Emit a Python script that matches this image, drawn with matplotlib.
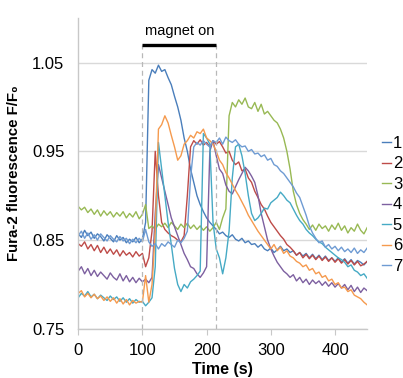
import numpy as np
import matplotlib
matplotlib.use('Agg')
import matplotlib.pyplot as plt

plt.rcParams['font.family'] = ['Liberation Sans', 'DejaVu Sans']

# time axis, one reading every 5 s
time_s = np.arange(0, 451, 5)

s1 = [0.857, 0.853, 0.861, 0.855, 0.859, 0.852, 0.857, 0.854, 0.849, 0.856,
      0.852, 0.848, 0.855, 0.850, 0.853, 0.847, 0.851, 0.848, 0.853, 0.847,
      0.851, 0.870, 1.030, 1.042, 1.038, 1.047, 1.040, 1.042, 1.033, 1.025,
      1.012, 1.000, 0.985, 0.965, 0.950, 0.930, 0.915, 0.900, 0.890, 0.882,
      0.875, 0.870, 0.866, 0.862, 0.857, 0.859, 0.855, 0.853, 0.856, 0.851,
      0.849, 0.852, 0.847, 0.849, 0.845, 0.846, 0.842, 0.845, 0.840, 0.838,
      0.841, 0.836, 0.839, 0.843, 0.838, 0.840, 0.836, 0.838, 0.833, 0.836,
      0.832, 0.835, 0.830, 0.834, 0.829, 0.833, 0.828, 0.832, 0.827, 0.830,
      0.826, 0.830, 0.825, 0.829, 0.824, 0.828, 0.823, 0.827, 0.825, 0.822,
      0.826]
s2 = [0.846, 0.843, 0.848, 0.840, 0.845, 0.838, 0.844, 0.836, 0.842, 0.835,
      0.840, 0.834, 0.839, 0.832, 0.838, 0.833, 0.836, 0.831, 0.837, 0.832,
      0.835, 0.820, 0.830, 0.860, 0.950, 0.900, 0.870, 0.862, 0.858, 0.855,
      0.853, 0.850, 0.848, 0.855, 0.900, 0.955, 0.962, 0.958, 0.963, 0.957,
      0.960, 0.955, 0.962, 0.958, 0.961, 0.955, 0.948, 0.950, 0.940, 0.935,
      0.938, 0.928, 0.930, 0.920, 0.915, 0.905, 0.898, 0.890, 0.885, 0.877,
      0.870, 0.865, 0.860, 0.855, 0.851, 0.845, 0.842, 0.838, 0.833, 0.836,
      0.830, 0.834, 0.829, 0.833, 0.828, 0.832, 0.827, 0.831, 0.826, 0.830,
      0.825, 0.829, 0.824, 0.828, 0.823, 0.827, 0.822, 0.826, 0.821, 0.823,
      0.826]
s3 = [0.888, 0.884, 0.887, 0.881, 0.885, 0.879, 0.884, 0.877, 0.883, 0.878,
      0.882, 0.876, 0.881, 0.877, 0.882, 0.875, 0.880, 0.876, 0.882, 0.874,
      0.879, 0.890, 0.863, 0.866, 0.862, 0.868, 0.865, 0.869, 0.864, 0.870,
      0.866, 0.862, 0.868, 0.864, 0.869, 0.863, 0.867, 0.862, 0.866, 0.861,
      0.865, 0.860, 0.864, 0.870, 0.862, 0.875, 0.885, 0.990, 1.005, 1.000,
      1.008, 1.003, 1.010, 1.000, 0.998, 1.005, 0.995, 1.003, 0.992, 0.995,
      0.990, 0.985, 0.982, 0.975, 0.965, 0.950, 0.930, 0.905, 0.890, 0.880,
      0.873, 0.868, 0.862, 0.867, 0.861, 0.868, 0.863, 0.866, 0.860, 0.867,
      0.862, 0.869, 0.861, 0.866, 0.858, 0.864, 0.860, 0.868, 0.861, 0.857,
      0.864]
s4 = [0.815, 0.820, 0.812, 0.818, 0.810, 0.816, 0.809, 0.814, 0.810, 0.806,
      0.813, 0.808, 0.805, 0.812, 0.804, 0.810, 0.803, 0.808, 0.802, 0.807,
      0.803, 0.806, 0.802, 0.808, 0.880, 0.935, 0.920, 0.905, 0.890, 0.875,
      0.865, 0.855, 0.845, 0.835, 0.828, 0.820, 0.818, 0.812, 0.808, 0.813,
      0.820, 0.950, 0.962, 0.945, 0.930, 0.925, 0.912, 0.905, 0.902, 0.910,
      0.918, 0.925, 0.932, 0.928, 0.922, 0.915, 0.900, 0.880, 0.865, 0.850,
      0.840, 0.832, 0.825, 0.820, 0.815, 0.812, 0.808, 0.811, 0.804, 0.808,
      0.802, 0.806, 0.800, 0.805, 0.801, 0.804, 0.799, 0.803, 0.798, 0.802,
      0.797, 0.801, 0.796, 0.800, 0.794, 0.799, 0.792, 0.797, 0.791, 0.796,
      0.793]
s5 = [0.785, 0.790, 0.787, 0.792, 0.786, 0.789, 0.784, 0.788, 0.785, 0.782,
      0.787, 0.783, 0.786, 0.781, 0.785, 0.780, 0.784, 0.779, 0.783, 0.780,
      0.781, 0.776, 0.780, 0.785, 0.820, 0.960, 0.930, 0.900, 0.870, 0.845,
      0.818, 0.800, 0.792, 0.800, 0.796, 0.803, 0.806, 0.810, 0.815, 0.970,
      0.965, 0.958, 0.870, 0.840, 0.830, 0.812, 0.830, 0.860, 0.920, 0.955,
      0.958, 0.945, 0.925, 0.900, 0.880, 0.872, 0.875, 0.880, 0.886, 0.885,
      0.892, 0.895, 0.898, 0.904, 0.900, 0.895, 0.892, 0.885, 0.878, 0.872,
      0.868, 0.862, 0.858, 0.855, 0.851, 0.848, 0.846, 0.842, 0.839, 0.836,
      0.833, 0.830, 0.828, 0.825, 0.820, 0.822, 0.816, 0.814, 0.810, 0.812,
      0.807]
s6 = [0.790, 0.793, 0.786, 0.790, 0.785, 0.789, 0.784, 0.787, 0.782, 0.786,
      0.781, 0.785, 0.779, 0.784, 0.778, 0.783, 0.777, 0.782, 0.779, 0.781,
      0.780, 0.810, 0.780, 0.800, 0.860, 0.975, 0.980, 0.990, 0.982, 0.968,
      0.955, 0.940, 0.945, 0.958, 0.962, 0.968, 0.965, 0.972, 0.970, 0.975,
      0.965, 0.962, 0.958, 0.950, 0.940, 0.935, 0.926, 0.920, 0.913, 0.906,
      0.900, 0.893, 0.886, 0.878, 0.872, 0.866, 0.860, 0.855, 0.850, 0.845,
      0.840, 0.845, 0.838, 0.842, 0.835, 0.838, 0.832, 0.830, 0.826, 0.824,
      0.820, 0.822, 0.816, 0.818, 0.812, 0.814, 0.808, 0.810, 0.804, 0.806,
      0.800, 0.802, 0.796, 0.797, 0.792, 0.794, 0.788, 0.786, 0.784, 0.780,
      0.777]
s7 = [0.855, 0.860, 0.852, 0.858, 0.851, 0.856, 0.850, 0.857, 0.853, 0.849,
      0.855, 0.851, 0.848, 0.854, 0.849, 0.852, 0.846, 0.851, 0.847, 0.852,
      0.848, 0.862, 0.848, 0.843, 0.846, 0.840, 0.846, 0.843, 0.848, 0.845,
      0.842, 0.850, 0.847, 0.852, 0.860, 0.920, 0.955, 0.960, 0.957, 0.962,
      0.958, 0.955, 0.962, 0.960, 0.965, 0.958, 0.966, 0.962, 0.960, 0.963,
      0.958, 0.955, 0.956, 0.950, 0.952, 0.947, 0.948, 0.944, 0.946, 0.940,
      0.942, 0.935, 0.933, 0.928, 0.925, 0.920, 0.915, 0.910, 0.903, 0.898,
      0.888, 0.878, 0.866, 0.858, 0.852, 0.847, 0.849, 0.842, 0.845, 0.840,
      0.843, 0.838, 0.842, 0.837, 0.840, 0.836, 0.841, 0.835, 0.839, 0.836,
      0.841]

series = [s1, s2, s3, s4, s5, s6, s7]
labels = ['1', '2', '3', '4', '5', '6', '7']
colors = ['#4A7EBB', '#BE4B48', '#98B954', '#7D60A0', '#46AAC5', '#F59A4E', '#6E9BD3']

magnet_on = 100
magnet_off = 215

fig = plt.figure(figsize=(4.03, 3.78), dpi=100)
ax = fig.add_axes([0.194, 0.130, 0.717, 0.822])

for vals, lab, c in zip(series, labels, colors):
    ax.plot(time_s, vals, color=c, lw=1.0, label=lab)

ax.set_xlim(0, 450)
ax.set_ylim(0.75, 1.10)
ax.set_xticks([0, 100, 200, 300, 400])
ax.set_yticks([0.75, 0.85, 0.95, 1.05])
ax.set_yticklabels(['0.75', '0.85', '0.95', '1.05'])
ax.yaxis.grid(True, color='#d9d9d9', lw=1.0)
ax.set_axisbelow(True)

for s in ['top', 'right']:
    ax.spines[s].set_visible(False)
for s in ['left', 'bottom']:
    ax.spines[s].set_color('#c8c8c8')
    ax.spines[s].set_linewidth(1.0)

ax.tick_params(axis='y', length=0, pad=10, labelsize=12)
ax.tick_params(axis='x', length=4, color='#c8c8c8', pad=6, labelsize=12)

# magnet window
for tx in [magnet_on, magnet_off]:
    ax.plot([tx, tx], [0.75, 1.07], color='#b8b8b8', lw=0.9, ls=(0, (4, 3)), clip_on=False)
ax.plot([magnet_on, magnet_off], [1.07, 1.07], color='black', lw=2.4, solid_capstyle='butt', clip_on=False)
ax.text((magnet_on + magnet_off) / 2, 1.078, 'magnet on', ha='center', va='bottom', fontsize=10.5)

ax.set_xlabel('Time (s)', fontsize=11.5, fontweight='bold', labelpad=3)
ax.set_ylabel('Fura-2 fluorescence F/F\u2080', fontsize=10.8, fontweight='bold', labelpad=8)

leg = fig.legend(loc='center left', bbox_to_anchor=(0.948, 0.458), frameon=False,
                 fontsize=12, handlelength=0.55, handletextpad=0.1, labelspacing=0.33,
                 borderpad=0, borderaxespad=0)

fig.savefig('out.png', dpi=100)
